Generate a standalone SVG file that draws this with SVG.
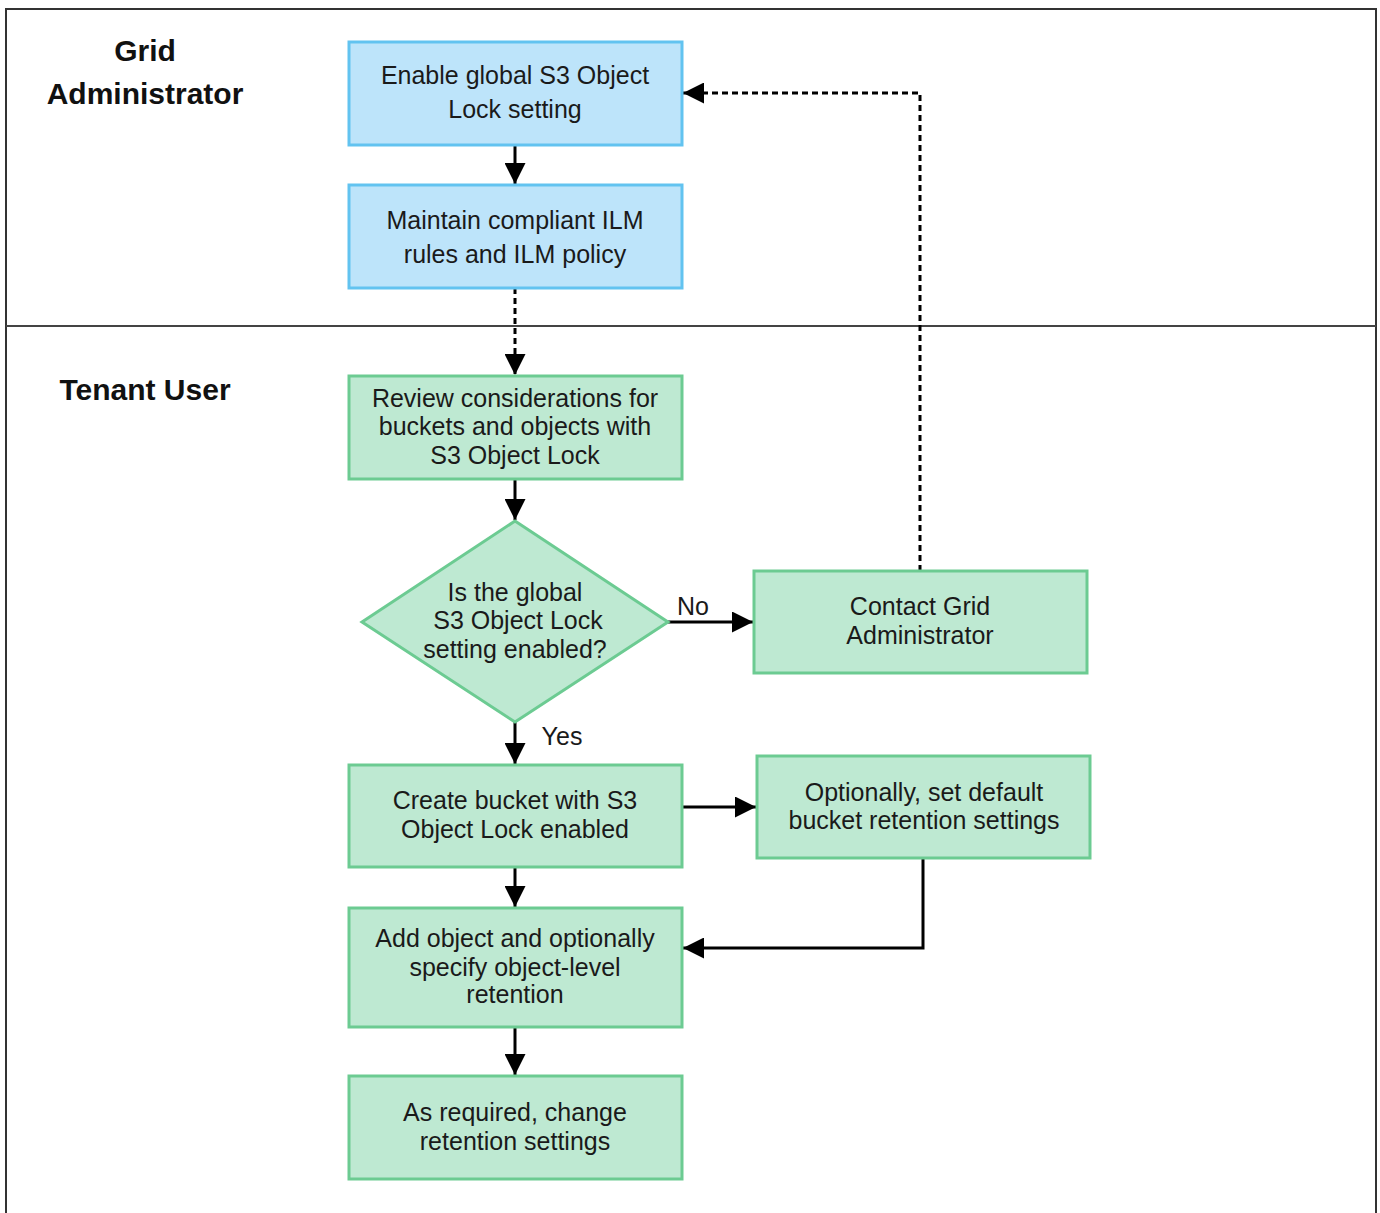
<svg xmlns="http://www.w3.org/2000/svg" width="1380" height="1213" viewBox="0 0 1380 1213">
<style>
.blue{fill:#BDE4FA;stroke:#62C3F0;stroke-width:3}
.green{fill:#BEE9D2;stroke:#6CCB92;stroke-width:3}
.t{font-family:"Liberation Sans",Arial,sans-serif;font-size:25px;fill:#1a1a1a;text-anchor:middle}
.h{font-family:"Liberation Sans",Arial,sans-serif;font-size:30px;font-weight:bold;fill:#111;text-anchor:middle}
.c{fill:none;stroke:#000;stroke-width:3}
.d{stroke-dasharray:6,4}
</style>
<defs>
<marker id="ah" viewBox="0 0 10 10" refX="10" refY="5" markerWidth="7" markerHeight="7" markerUnits="strokeWidth" orient="auto">
<path d="M0,0 L10,5 L0,10 Z" fill="#000"/>
</marker>
</defs>
<rect x="6" y="9" width="1370" height="1220" fill="#fff" stroke="#333" stroke-width="2"/>
<line x1="6" y1="326" x2="1376" y2="326" stroke="#444" stroke-width="2"/>
<g id="lane-grid"><text class="h" x="145" y="61">Grid</text><text class="h" x="145" y="104">Administrator</text></g>
<g id="lane-tenant"><text class="h" x="145" y="400">Tenant User</text></g>
<g id="connectors">
<path class="c" d="M515,145 V184" marker-end="url(#ah)"/>
<path class="c d" d="M515,288 V375" marker-end="url(#ah)"/>
<path class="c" d="M515,479 V520" marker-end="url(#ah)"/>
<path class="c" d="M668,622 H753" marker-end="url(#ah)"/>
<text class="t" x="693" y="615">No</text>
<path class="c" d="M515,722 V764" marker-end="url(#ah)"/>
<text class="t" x="562" y="745">Yes</text>
<path class="c d" d="M920,571 V93 H683" marker-end="url(#ah)"/>
<path class="c" d="M678,807 H756" marker-end="url(#ah)"/>
<path class="c" d="M923,858 V948 H683" marker-end="url(#ah)"/>
<path class="c" d="M515,867 V907" marker-end="url(#ah)"/>
<path class="c" d="M515,1027 V1075" marker-end="url(#ah)"/>
</g>
<g id="n1"><rect class="blue" x="349" y="42" width="333" height="103"/><text class="t" x="515" y="84">Enable global S3 Object</text><text class="t" x="515" y="118">Lock setting</text></g>
<g id="n2"><rect class="blue" x="349" y="185" width="333" height="103"/><text class="t" x="515" y="229">Maintain compliant ILM</text><text class="t" x="515" y="263">rules and ILM policy</text></g>
<g id="n3"><rect class="green" x="349" y="376" width="333" height="103"/><text class="t" x="515" y="407">Review considerations for</text><text class="t" x="515" y="435">buckets and objects with</text><text class="t" x="515" y="464">S3 Object Lock</text></g>
<g id="n4"><polygon class="green" points="515,521 668,622 515,722 362,622"/><text class="t" x="515" y="601">Is the global</text><text class="t" x="518" y="629">S3 Object Lock</text><text class="t" x="515" y="658">setting enabled?</text></g>
<g id="n5"><rect class="green" x="754" y="571" width="333" height="102"/><text class="t" x="920" y="615">Contact Grid</text><text class="t" x="920" y="644">Administrator</text></g>
<g id="n6"><rect class="green" x="349" y="765" width="333" height="102"/><text class="t" x="515" y="809">Create bucket with S3</text><text class="t" x="515" y="838">Object Lock enabled</text></g>
<g id="n7"><rect class="green" x="757" y="756" width="333" height="102"/><text class="t" x="924" y="801">Optionally, set default</text><text class="t" x="924" y="829">bucket retention settings</text></g>
<g id="n8"><rect class="green" x="349" y="908" width="333" height="119"/><text class="t" x="515" y="947">Add object and optionally</text><text class="t" x="515" y="976">specify object-level</text><text class="t" x="515" y="1003">retention</text></g>
<g id="n9"><rect class="green" x="349" y="1076" width="333" height="103"/><text class="t" x="515" y="1121">As required, change</text><text class="t" x="515" y="1150">retention settings</text></g>
</svg>
